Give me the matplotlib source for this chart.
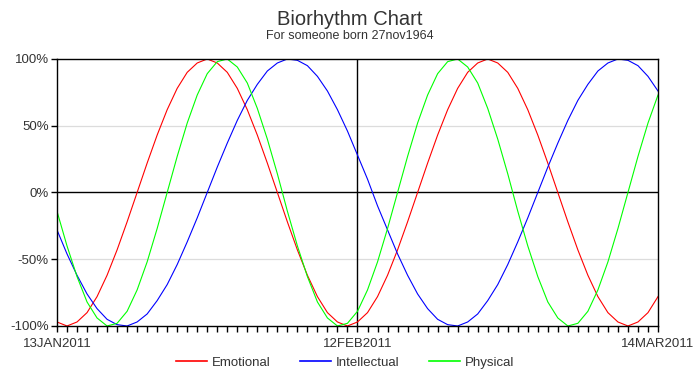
import numpy as np
import pandas as pd
import matplotlib
matplotlib.use("Agg")
import matplotlib.pyplot as plt
import matplotlib.dates as mdates
from matplotlib.ticker import FixedLocator, FuncFormatter

plt.rcParams['font.family'] = ['Liberation Sans', 'DejaVu Sans']

# Data (one point per day, 13JAN2011 - 14MAR2011)
dates = pd.date_range("2011-01-13", "2011-03-14", freq="D")

emotional = [-0.97, -1.00, -0.97, -0.90, -0.78, -0.62, -0.43, -0.22, 0.00, 0.22,
             0.43, 0.62, 0.78, 0.90, 0.97, 1.00, 0.97, 0.90, 0.78, 0.62,
             0.43, 0.22, 0.00, -0.22, -0.43, -0.62, -0.78, -0.90, -0.97, -1.00,
             -0.97, -0.90, -0.78, -0.62, -0.43, -0.22, 0.00, 0.22, 0.43, 0.62,
             0.78, 0.90, 0.97, 1.00, 0.97, 0.90, 0.78, 0.62, 0.43, 0.22,
             0.00, -0.22, -0.43, -0.62, -0.78, -0.90, -0.97, -1.00, -0.97, -0.90,
             -0.78]

intellectual = [-0.28, -0.46, -0.62, -0.76, -0.87, -0.95, -0.99, -1.00, -0.97, -0.91,
                -0.81, -0.69, -0.54, -0.37, -0.19, 0.00, 0.19, 0.37, 0.54, 0.69,
                0.81, 0.91, 0.97, 1.00, 0.99, 0.95, 0.87, 0.76, 0.62, 0.46,
                0.28, 0.10, -0.10, -0.28, -0.46, -0.62, -0.76, -0.87, -0.95, -0.99,
                -1.00, -0.97, -0.91, -0.81, -0.69, -0.54, -0.37, -0.19, 0.00, 0.19,
                0.37, 0.54, 0.69, 0.81, 0.91, 0.97, 1.00, 0.99, 0.95, 0.87,
                0.76]

physical = [-0.14, -0.40, -0.63, -0.82, -0.94, -1.00, -0.98, -0.89, -0.73, -0.52,
            -0.27, 0.00, 0.27, 0.52, 0.73, 0.89, 0.98, 1.00, 0.94, 0.82,
            0.63, 0.40, 0.14, -0.14, -0.40, -0.63, -0.82, -0.94, -1.00, -0.98,
            -0.89, -0.73, -0.52, -0.27, 0.00, 0.27, 0.52, 0.73, 0.89, 0.98,
            1.00, 0.94, 0.82, 0.63, 0.40, 0.14, -0.14, -0.40, -0.63, -0.82,
            -0.94, -1.00, -0.98, -0.89, -0.73, -0.52, -0.27, 0.00, 0.27, 0.52,
            0.73]

major_dates = pd.to_datetime(["2011-01-13", "2011-02-12", "2011-03-14"])
ref_date = pd.Timestamp("2011-02-12")
y_ticks = [-1.0, -0.5, 0.0, 0.5, 1.0]

txt = "#333333"

fig = plt.figure(figsize=(7.0, 3.75), dpi=100)
ax = fig.add_axes([0.0814, 0.1307, 0.8586, 0.712])

ax.axhline(0.5, color="#dcdcdc", lw=0.9, zorder=0)
ax.axhline(-0.5, color="#dcdcdc", lw=0.9, zorder=0)
ax.axhline(0, color="black", lw=1.0, zorder=1)
ax.axvline(ref_date, color="black", lw=1.0, zorder=1)

ax.plot(dates, emotional, color="#ff0000", lw=0.8, label="Emotional", zorder=2)
ax.plot(dates, intellectual, color="#0000ff", lw=0.8, label="Intellectual", zorder=2)
ax.plot(dates, physical, color="#00ff00", lw=0.8, label="Physical", zorder=2)

ax.set_xlim(dates[0], dates[-1])
ax.set_ylim(-1, 1)

ax.xaxis.set_major_locator(FixedLocator(mdates.date2num(major_dates)))
ax.xaxis.set_minor_locator(FixedLocator(mdates.date2num(dates)))
ax.xaxis.set_major_formatter(FuncFormatter(
    lambda v, p: mdates.num2date(v).strftime("%d%b%Y").upper()))
ax.set_yticks(y_ticks)
ax.yaxis.set_major_formatter(FuncFormatter(lambda v, p: "%d%%" % round(v * 100)))

ax.tick_params(axis="both", which="major", length=4, width=1, direction="out",
               labelsize=9.5, labelcolor=txt, pad=2)
ax.tick_params(axis="x", which="major", pad=4.5)
ax.tick_params(axis="x", which="minor", length=4, width=1, direction="out")

for s in ax.spines.values():
    s.set_linewidth(1.0)
    s.set_color("black")

fig.text(0.5, 0.949, "Biorhythm Chart", ha="center", va="center",
         fontsize=14.5, color=txt)
fig.text(0.5, 0.905, "For someone born 27nov1964", ha="center", va="center",
         fontsize=9, color=txt)

leg = fig.legend(loc="center", bbox_to_anchor=(0.493, 0.033), ncol=3, frameon=False,
                 fontsize=9.5, handlelength=2.35, columnspacing=2.2, handletextpad=0.4)
for t in leg.get_texts():
    t.set_color(txt)
for l in leg.get_lines():
    l.set_linewidth(1.2)

fig.savefig("out.png", dpi=100)
